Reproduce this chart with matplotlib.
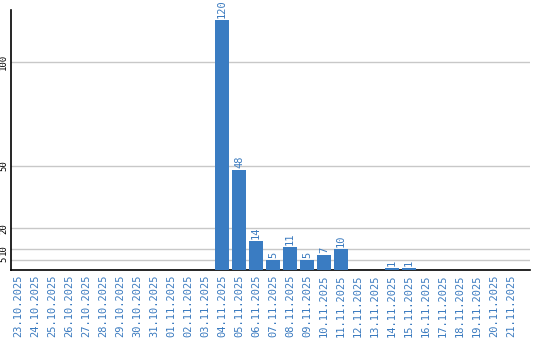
import matplotlib
matplotlib.use("Agg")
import matplotlib.pyplot as plt

dates = ["23.10.2025", "24.10.2025", "25.10.2025", "26.10.2025", "27.10.2025",
         "28.10.2025", "29.10.2025", "30.10.2025", "31.10.2025", "01.11.2025",
         "02.11.2025", "03.11.2025", "04.11.2025", "05.11.2025", "06.11.2025",
         "07.11.2025", "08.11.2025", "09.11.2025", "10.11.2025", "11.11.2025",
         "12.11.2025", "13.11.2025", "14.11.2025", "15.11.2025", "16.11.2025",
         "17.11.2025", "18.11.2025", "19.11.2025", "20.11.2025", "21.11.2025"]
values = [0, 0, 0, 0, 0, 0, 0, 0, 0, 0, 0, 0, 120, 48, 14, 5, 11, 5, 7, 10,
          0, 0, 1, 1, 0, 0, 0, 0, 0, 0]
yticks = [5, 10, 20, 50, 100]

bar_color = "#3a7cc2"
text_color = "#3a7abf"
font = "DejaVu Sans Mono"

fig = plt.figure(figsize=(5.4, 3.4), dpi=100)
ax = fig.add_axes([11/540, 1 - 270/340, 519/540, 260/340])

x = list(range(len(dates)))
ax.bar(x, values, width=0.82, color=bar_color, zorder=3)

for xi, v in zip(x, values):
    if v > 0:
        ax.text(xi, v + 1, str(v), rotation=90, ha="center", va="bottom",
                color=text_color, fontsize=7.5, family=font, zorder=4)

ax.set_xlim(-0.41, 30.12)
ax.set_ylim(0, 125)
ax.set_xticks(x)
ax.set_xticklabels(dates, rotation=90, fontsize=7.5, family=font, color=text_color)
ax.set_yticks(yticks)
ax.set_yticklabels([str(t) for t in yticks], rotation=90, fontsize=6.5, family=font,
                   va="center")
ax.tick_params(axis="both", length=0, pad=3)
ax.tick_params(axis="y", pad=2)
ax.grid(axis="y", color="#c8c8c8", linewidth=1, zorder=0)
for s in ["top", "right"]:
    ax.spines[s].set_visible(False)
ax.spines["left"].set_color("black")
ax.spines["bottom"].set_color("black")
ax.spines["left"].set_linewidth(1.2)
ax.spines["bottom"].set_linewidth(1.2)

fig.savefig("out.png", dpi=100)
